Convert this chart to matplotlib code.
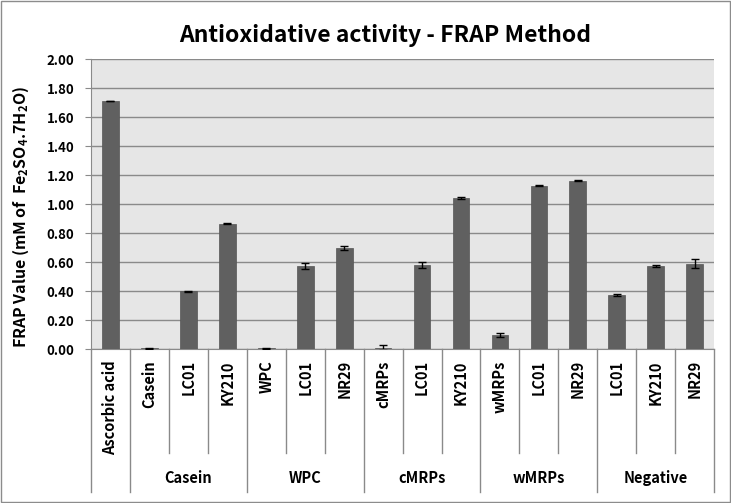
import matplotlib
matplotlib.use("Agg")
import matplotlib.pyplot as plt
import matplotlib.transforms as mtransforms
from matplotlib.patches import Rectangle

labels = ["Ascorbic acid", "Casein", "LC01", "KY210", "WPC", "LC01", "NR29",
          "cMRPs", "LC01", "KY210", "wMRPs", "LC01", "NR29", "LC01", "KY210", "NR29"]
values = [1.71, 0.005, 0.40, 0.865, 0.005, 0.575, 0.695, 0.01, 0.58, 1.04,
          0.095, 1.125, 1.16, 0.375, 0.575, 0.59]
errors = [0.003, 0.002, 0.003, 0.006, 0.002, 0.02, 0.015, 0.015, 0.02, 0.006,
          0.015, 0.004, 0.004, 0.006, 0.006, 0.03]
groups = ["", "Casein", "WPC", "cMRPs", "wMRPs", "Negative"]
group_sizes = [1, 3, 3, 3, 3, 3]

plt.rcParams['font.family'] = ['Noto Sans CJK KR', 'DejaVu Sans']
plt.rcParams['mathtext.fontset'] = 'custom'
plt.rcParams['mathtext.rm'] = 'Noto Sans CJK KR:bold'
plt.rcParams['mathtext.default'] = 'rm'
fig = plt.figure(figsize=(7.31, 5.03), dpi=100)
fig.patch.set_facecolor("white")
fig.patches.append(Rectangle((0.001, 0.001), 0.997, 0.997, transform=fig.transFigure,
                             fill=False, edgecolor="#8c8c8c", linewidth=1))
ax = fig.add_axes([0.1245, 0.306, 0.8525, 0.5767])
ax.set_facecolor("#e6e6e6")

x = list(range(len(values)))
ax.bar(x, values, width=0.43, color="#606060", edgecolor="#555555", linewidth=0.5, zorder=3)
ax.errorbar(x, values, yerr=errors, fmt="none", ecolor="black", elinewidth=1,
            capsize=3, capthick=1, zorder=4)

ax.set_xlim(-0.5, len(values) - 0.5)
ax.set_ylim(0, 2.0)
yt = [i * 0.2 for i in range(11)]
ax.set_yticks(yt)
ax.set_yticklabels([f"{v:.2f}" for v in yt], fontsize=9.5, fontweight="bold")
ax.yaxis.grid(True, color="#8a8a8a", linewidth=1, zorder=0)
ax.set_axisbelow(True)
ax.tick_params(axis="y", direction="out", length=4, color="#8a8a8a", pad=8)

ax.set_xticks(x)
ax.set_xticklabels(labels, rotation=90, fontsize=10.5, fontweight="bold", va="top")
ax.tick_params(axis="x", length=0, pad=8)

for s in ["top", "right"]:
    ax.spines[s].set_visible(False)
ax.spines["left"].set_color("#8a8a8a")
ax.spines["bottom"].set_color("#8a8a8a")

ax.set_ylabel("FRAP Value (mM of  Fe$_2$SO$_4$.7H$_2$O)", fontsize=11.5, fontweight="bold")
ax.yaxis.set_label_coords(-0.097, 0.455)
fig.suptitle("Antioxidative activity - FRAP Method", fontsize=16.5, fontweight="bold",
             x=0.527, y=0.952)

trans = mtransforms.blended_transform_factory(ax.transData, ax.transAxes)
group_edges = [-0.5]
for gs in group_sizes:
    group_edges.append(group_edges[-1] + gs)
inner_y, outer_y = -0.359, -0.493
for i in range(len(values) + 1):
    b = i - 0.5
    yb = outer_y if b in group_edges else inner_y
    ax.plot([b, b], [0, yb], transform=trans, color="#8a8a8a", linewidth=1, clip_on=False)
start = -0.5
for g, gs in zip(groups, group_sizes):
    if g:
        ax.text(start + gs / 2, -0.445, g, transform=trans, ha="center", va="center",
                fontsize=10.5, fontweight="bold")
    start += gs

fig.savefig("out.png", dpi=100)
